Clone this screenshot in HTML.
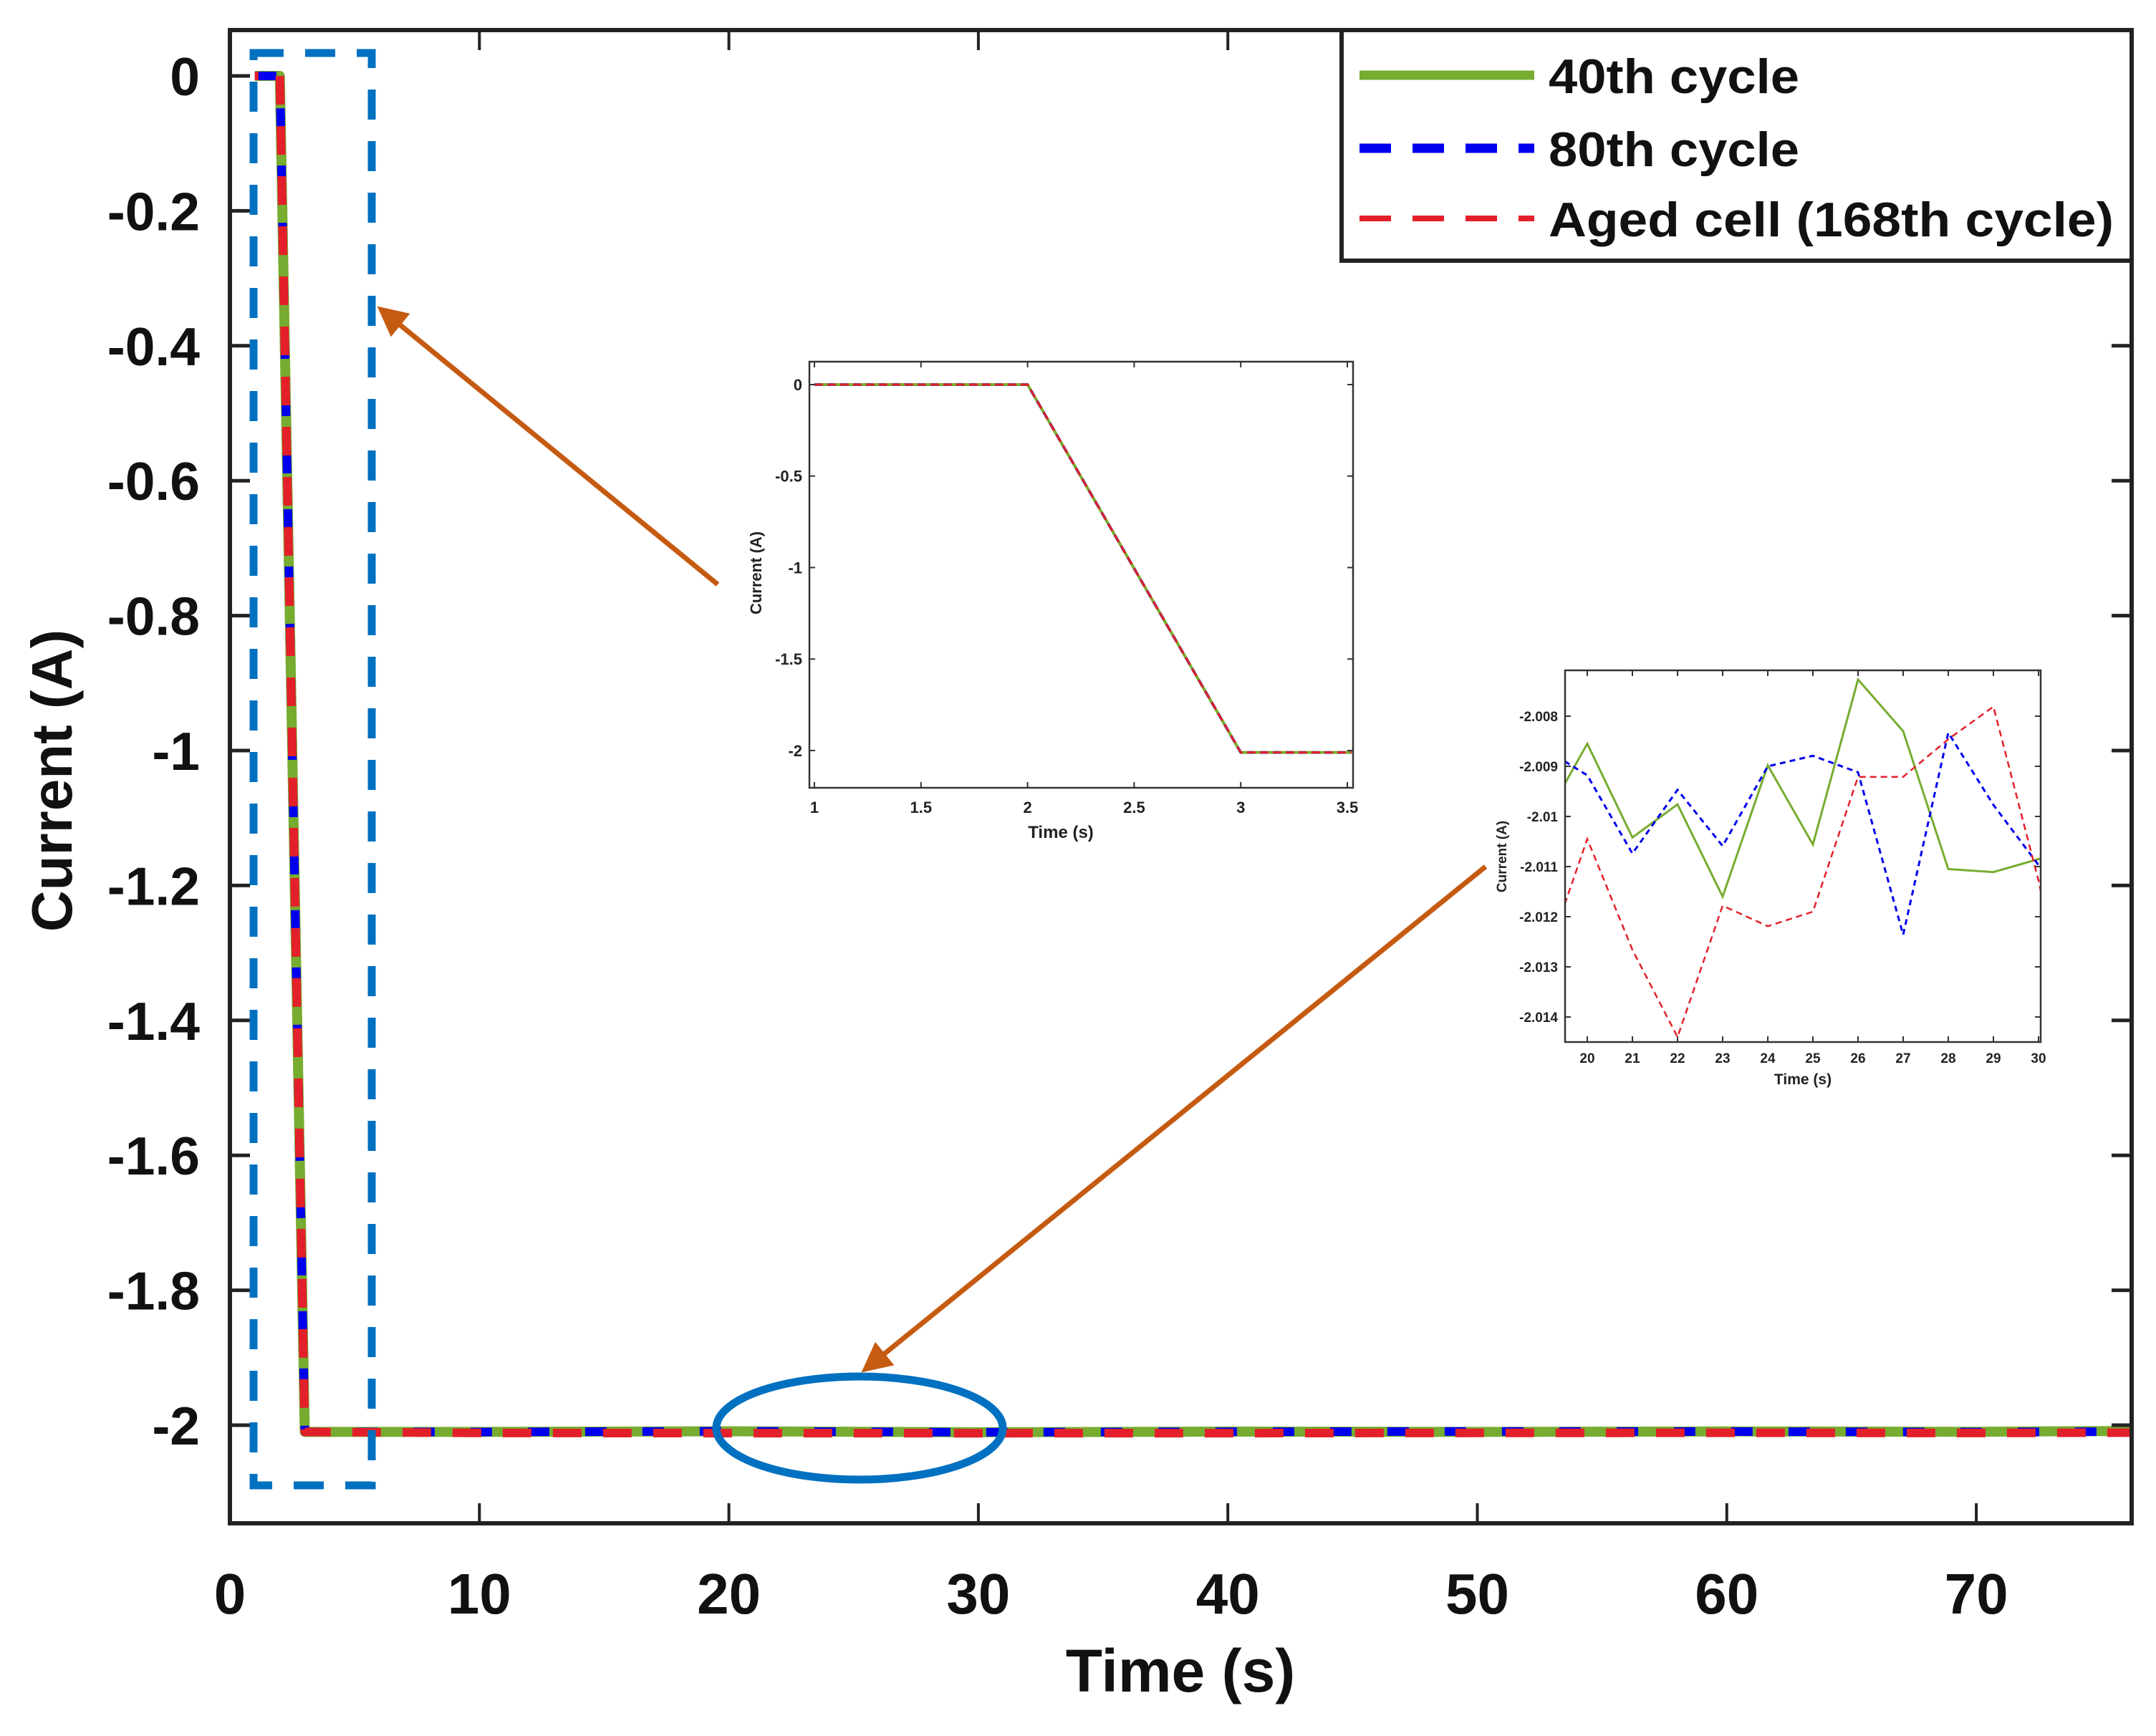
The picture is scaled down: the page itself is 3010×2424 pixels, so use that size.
<!DOCTYPE html>
<html><head><meta charset="utf-8"><style>
html,body{margin:0;padding:0;background:#fff;}
svg{display:block;font-family:"Liberation Sans",Arial,sans-serif;}
</style></head><body>
<svg id="fig" width="3010" height="2424" viewBox="0 0 3010 2424" xmlns="http://www.w3.org/2000/svg">
<rect width="3010" height="2424" fill="#fff"/>
<g id="main"></g>
<g id="ins1"></g>
<g id="ins2"></g>
<g id="anno"></g>
</svg>
<script>
// ---- main chart data ----
const mainTime = [1, 2, 3, 10, 20, 30, 40, 50, 60, 70, 76.3];
const main40 = [0, 0, -2.01, -2.01, -2.009, -2.0105, -2.0095, -2.010, -2.0092, -2.0098, -2.0085];
const main80 = [0, 0, -2.01, -2.0102, -2.009, -2.0105, -2.0098, -2.0092, -2.0095, -2.0102, -2.0095];
const main168 = [0, 0, -2.01, -2.0115, -2.0118, -2.0119, -2.0118, -2.0115, -2.0112, -2.0116, -2.011];
const mainXTicks = [0, 10, 20, 30, 40, 50, 60, 70];
const mainYTicks = [0, -0.2, -0.4, -0.6, -0.8, -1, -1.2, -1.4, -1.6, -1.8, -2];
const mainYTickLabels = ["0", "-0.2", "-0.4", "-0.6", "-0.8", "-1", "-1.2", "-1.4", "-1.6", "-1.8", "-2"];
// ---- inset 1 data ----
const ins1Time = [1, 2, 3, 3.52];
const ins1Cur40 = [0, 0, -2.01, -2.01];
const ins1Cur80 = [0, 0, -2.01, -2.01];
const ins1Cur168 = [0, 0, -2.01, -2.01];
const ins1XTicks = [1, 1.5, 2, 2.5, 3, 3.5];
const ins1YTicks = [0, -0.5, -1, -1.5, -2];
// ---- inset 2 data ----
const ins2Time = [19.5, 20, 21, 22, 23, 24, 25, 26, 27, 28, 29, 30, 30.12];
const ins2Cur40 = [-2.00935, -2.00855, -2.01042, -2.00976, -2.0116, -2.00898, -2.01056, -2.00727, -2.0083, -2.01105, -2.01111, -2.01085, -2.01083];
const ins2Cur80 = [-2.0089, -2.00918, -2.01074, -2.00947, -2.01059, -2.009, -2.00879, -2.00912, -2.01236, -2.00833, -2.00977, -2.01097, -2.0111];
const ins2Cur168 = [-2.01175, -2.01045, -2.01266, -2.0144, -2.01178, -2.01219, -2.0119, -2.00921, -2.00921, -2.00846, -2.00781, -2.01128, -2.0118];
const ins2XTicks = [20, 21, 22, 23, 24, 25, 26, 27, 28, 29, 30];
const ins2YTicks = [-2.008, -2.009, -2.01, -2.011, -2.012, -2.013, -2.014];

const NS = "http://www.w3.org/2000/svg";
function mk(parent, tag, attrs, text) {
  const e = document.createElementNS(NS, tag);
  for (const k in attrs) e.setAttribute(k, attrs[k]);
  if (text !== undefined) e.textContent = text;
  parent.appendChild(e);
  return e;
}
function lin(d0, d1, r0, r1) { return v => r0 + (v - d0) * (r1 - r0) / (d1 - d0); }
function pts(xs, ys, sx, sy) { return xs.map((v, i) => sx(v).toFixed(1) + "," + sy(ys[i]).toFixed(1)).join(" "); }

const GREEN = "#77AC30", BLUE = "#0000EE", RED = "#E3202A";

// ================= MAIN =================
(function () {
  const g = document.getElementById("main");
  const L = 321, R = 2976, T = 42, B = 2127;
  const sx = lin(0, 10, 321, 669.3);
  const sy = lin(0, -2, 106, 1990);
  const lines = [
    [main40, GREEN, "none", 14, "series-40th-cycle", 0],
    [main80, BLUE, "30 50", 12, "series-80th-cycle", 0],
    [main168, RED, "40 30", 12, "series-168th-cycle", 35]
  ];
  lines.forEach(l => {
    const p = mk(g, "polyline", { points: pts(mainTime, l[0], sx, sy), fill: "none", stroke: l[1], "stroke-width": l[3], "stroke-dasharray": l[2], "stroke-dashoffset": l[5], "stroke-linejoin": "round" });
    
    
  });
  const box = mk(g, "rect", { x: L, y: T, width: R - L, height: B - T, fill: "none", stroke: "#222", "stroke-width": 6 });
  
  
  mainXTicks.forEach(v => {
    const x = sx(v);
    const t1 = mk(g, "line", { x1: x, y1: B, x2: x, y2: B - 28, stroke: "#222", "stroke-width": 4 });
    
    
    const t2 = mk(g, "line", { x1: x, y1: T, x2: x, y2: T + 28, stroke: "#222", "stroke-width": 4 });
    
    
    const tl = mk(g, "text", { x: x, y: 2253, "text-anchor": "middle", "font-size": 80, "font-weight": "bold", fill: "#111" }, String(v));
    
    
  });
  mainYTicks.forEach((v, i) => {
    const y = sy(v);
    const t1 = mk(g, "line", { x1: L, y1: y, x2: L + 28, y2: y, stroke: "#222", "stroke-width": 5 });
    
    
    const t2 = mk(g, "line", { x1: R, y1: y, x2: R - 28, y2: y, stroke: "#222", "stroke-width": 5 });
    
    
    const tl = mk(g, "text", { x: 279, y: y + 27, "text-anchor": "end", "font-size": 75, "font-weight": "bold", fill: "#111" }, mainYTickLabels[i]);
    
    
  });
  const xt = mk(g, "text", { x: 1648, y: 2362, "text-anchor": "middle", "font-size": 84, "font-weight": "bold", fill: "#111" }, "Time (s)");
  
  
  const yt = mk(g, "text", { x: 0, y: 0, "text-anchor": "middle", "font-size": 80, "font-weight": "bold", fill: "#111", transform: "translate(100,1090) rotate(-90)" }, "Current (A)");
  
  
  // legend
  const lg = mk(g, "g", {});
  
  
  const lb = mk(lg, "rect", { x: 1873, y: 42, width: 1103, height: 322, fill: "#fff", stroke: "#222", "stroke-width": 6 });
  
  
  const entries = [
    ["40th cycle", GREEN, "none", 13, 105, 350],
    ["80th cycle", BLUE, "44 30", 13, 207, 350],
    ["Aged cell (168th cycle)", RED, "44 30", 8, 305, 789]
  ];
  entries.forEach(e => {
    const eg = mk(lg, "g", {});
    
    
    mk(eg, "line", { x1: 1898, y1: e[4], x2: 2142, y2: e[4], stroke: e[1], "stroke-width": e[3], "stroke-dasharray": e[2] });
    mk(eg, "text", { x: 2162, y: e[4] + 25, "font-size": 68, "font-weight": "bold", fill: "#111", textLength: e[5], lengthAdjust: "spacingAndGlyphs" }, e[0]);
  });
})();

// ================= INSET helper =================
function inset(gid, box, xd, yd, xr, yr, xs, ys, xt, yt, fmt, fs, lw, dash, labPos) {
  const g = document.getElementById(gid);
  const sx = lin(xd[0], xd[1], xr[0], xr[1]);
  const sy = lin(yd[0], yd[1], yr[0], yr[1]);
  mk(g, "rect", { x: box[0], y: box[1], width: box[2] - box[0], height: box[3] - box[1], fill: "#fff" });
  const clipId = gid + "clip";
  const cp = mk(g, "clipPath", { id: clipId });
  mk(cp, "rect", { x: box[0], y: box[1], width: box[2] - box[0], height: box[3] - box[1] });
  const cg = mk(g, "g", { "clip-path": "url(#" + clipId + ")" });
  const ser = [[ys[0], GREEN, "none", lw[0], "inset-series-40th"], [ys[1], BLUE, dash[0], lw[1], "inset-series-80th"], [ys[2], RED, dash[1], lw[2], "inset-series-168th"]];
  ser.forEach(s => {
    const p = mk(cg, "polyline", { points: pts(xs, s[0], sx, sy), fill: "none", stroke: s[1], "stroke-width": s[3], "stroke-dasharray": s[2] });
    
    
  });
  const b = mk(g, "rect", { x: box[0], y: box[1], width: box[2] - box[0], height: box[3] - box[1], fill: "none", stroke: "#333", "stroke-width": 2.5 });
  
  
  xt.forEach(v => {
    const x = sx(v);
    mk(g, "line", { x1: x, y1: box[3], x2: x, y2: box[3] - 8, stroke: "#333", "stroke-width": 2 });
    mk(g, "line", { x1: x, y1: box[1], x2: x, y2: box[1] + 8, stroke: "#333", "stroke-width": 2 });
    const t = mk(g, "text", { x: x, y: labPos[0], "text-anchor": "middle", "font-size": fs, "font-weight": "bold", fill: "#222" }, String(v));
    
    
  });
  yt.forEach(v => {
    const y = sy(v);
    mk(g, "line", { x1: box[0], y1: y, x2: box[0] + 8, y2: y, stroke: "#333", "stroke-width": 2 });
    mk(g, "line", { x1: box[2], y1: y, x2: box[2] - 8, y2: y, stroke: "#333", "stroke-width": 2 });
    const t = mk(g, "text", { x: labPos[1], y: y + fs * 0.36, "text-anchor": "end", "font-size": fs, "font-weight": "bold", fill: "#222" }, fmt(v));
    
    
  });
  const a = mk(g, "text", { x: labPos[2], y: labPos[3], "text-anchor": "middle", "font-size": fs + 2, "font-weight": "bold", fill: "#222" }, "Time (s)");
  
  
  const c = mk(g, "text", { x: 0, y: 0, "text-anchor": "middle", "font-size": fs, "font-weight": "bold", fill: "#222", transform: "translate(" + labPos[4] + "," + labPos[5] + ") rotate(-90)" }, "Current (A)");
  
  
}
inset("ins1", [1130, 505, 1889, 1100], [1, 3.5], [0, -2], [1137, 1881], [537, 1048],
  ins1Time, [ins1Cur40, ins1Cur80, ins1Cur168], ins1XTicks, ins1YTicks, v => String(v), 22, [4, 3.5, 3], ["10 8", "12 6"], [1135, 1120, 1481, 1170, 1063, 800]);
inset("ins2", [2185, 936, 2849, 1455], [20, 30], [-2.008, -2.014], [2216, 2846], [1000, 1420],
  ins2Time, [ins2Cur40, ins2Cur80, ins2Cur168], ins2XTicks, ins2YTicks, v => String(+v.toFixed(3)), 19, [3, 3, 2.5], ["8 6", "9 6"], [1484, 2175, 2517, 1514, 2103, 1196]);

// ================= ANNOTATIONS =================
(function () {
  const g = document.getElementById("anno");
  const r = mk(g, "rect", { x: 354, y: 74, width: 165, height: 2000, fill: "none", stroke: "#0070C0", "stroke-width": 11, "stroke-dasharray": "42 30" });
  
  
  const el = mk(g, "ellipse", { cx: 1200, cy: 1994, rx: 200, ry: 72, fill: "none", stroke: "#0070C0", "stroke-width": 11 });
  
  
  const defs = mk(g, "defs", {});
  const m = mk(defs, "marker", { id: "ah", markerWidth: 6, markerHeight: 6, refX: 5, refY: 3, orient: "auto", markerUnits: "strokeWidth" });
  mk(m, "path", { d: "M0,0 L6,3 L0,6 z", fill: "#C55A11" });
  const a1 = mk(g, "line", { x1: 1002, y1: 816, x2: 532, y2: 432, stroke: "#C55A11", "stroke-width": 7, "marker-end": "url(#ah)" });
  
  
  const a2 = mk(g, "line", { x1: 2074, y1: 1210, x2: 1208, y2: 1912, stroke: "#C55A11", "stroke-width": 7, "marker-end": "url(#ah)" });
  
  
})();
</script>
</body></html>
